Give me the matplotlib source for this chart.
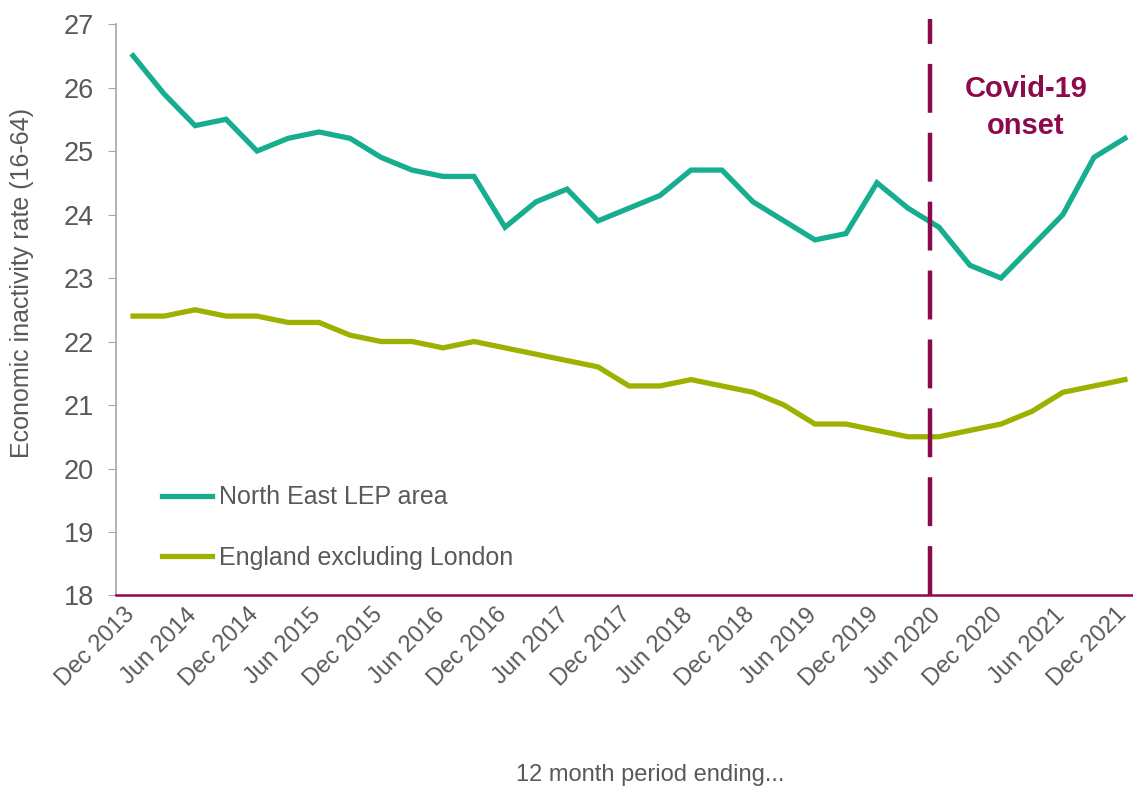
import matplotlib.pyplot as plt
from matplotlib.transforms import ScaledTranslation

plt.rcParams['font.family'] = ['Liberation Sans', 'DejaVu Sans']

# quarterly, 12 month period ending Dec 2013 ... Dec 2021
periods = ['Dec 2013', 'Mar 2014', 'Jun 2014', 'Sep 2014', 'Dec 2014', 'Mar 2015', 'Jun 2015',
           'Sep 2015', 'Dec 2015', 'Mar 2016', 'Jun 2016', 'Sep 2016', 'Dec 2016', 'Mar 2017',
           'Jun 2017', 'Sep 2017', 'Dec 2017', 'Mar 2018', 'Jun 2018', 'Sep 2018', 'Dec 2018',
           'Mar 2019', 'Jun 2019', 'Sep 2019', 'Dec 2019', 'Mar 2020', 'Jun 2020', 'Sep 2020',
           'Dec 2020', 'Mar 2021', 'Jun 2021', 'Sep 2021', 'Dec 2021']
north_east = [26.5, 25.9, 25.4, 25.5, 25.0, 25.2, 25.3, 25.2, 24.9, 24.7, 24.6, 24.6, 23.8,
              24.2, 24.4, 23.9, 24.1, 24.3, 24.7, 24.7, 24.2, 23.9, 23.6, 23.7, 24.5, 24.1,
              23.8, 23.2, 23.0, 23.5, 24.0, 24.9, 25.2]
england_ex_london = [22.4, 22.4, 22.5, 22.4, 22.4, 22.3, 22.3, 22.1, 22.0, 22.0, 21.9, 22.0,
                     21.9, 21.8, 21.7, 21.6, 21.3, 21.3, 21.4, 21.3, 21.2, 21.0, 20.7, 20.7,
                     20.6, 20.5, 20.5, 20.6, 20.7, 20.9, 21.2, 21.3, 21.4]
covid_pos = 25.7  # between Mar 2020 and Jun 2020

teal = '#17AD8F'
olive = '#9DB100'
maroon = '#8C0A4B'
grey = '#595959'

fig = plt.figure(figsize=(11.33, 7.88), dpi=100)
ax = fig.add_axes([0.1024, 0.2443, 0.8976, 0.7252])

x = list(range(len(periods)))
ax.plot(x, north_east, color=teal, lw=3.8, label='North East LEP area', solid_joinstyle='miter')
ax.plot(x, england_ex_london, color=olive, lw=3.8, label='England excluding London', solid_joinstyle='miter')
ax.axvline(covid_pos, ymin=0, ymax=1.008, color=maroon, lw=3.2, dashes=(11, 4.5), clip_on=False)

ax.text(28.8, 25.68, 'Covid-19\nonset', color=maroon, fontsize=21, fontweight='bold',
        ha='center', va='center', linespacing=1.42)

ax.set_xlim(-0.55, 32.26)
ax.set_ylim(18, 27)
ax.set_yticks(range(18, 28))
ax.set_xticks(x[::2])
ax.set_xticklabels(periods[::2], rotation=45, ha='right', rotation_mode='anchor',
                   fontsize=17, color=grey)
ax.tick_params(axis='x', length=0, pad=6)
ax.tick_params(axis='y', length=6, color='#A6A6A6', labelsize=19.5, labelcolor=grey, pad=10)

# nudge the rotated labels a little left so the last one stays inside the figure
shift = ScaledTranslation(-7 / 72, 0, fig.dpi_scale_trans)
for lbl in ax.get_xticklabels():
    lbl.set_transform(lbl.get_transform() + shift)

for s in ['top', 'right']:
    ax.spines[s].set_visible(False)
ax.spines['left'].set_color('#A6A6A6')
ax.spines['left'].set_linewidth(1.2)
ax.spines['bottom'].set_color(maroon)
ax.spines['bottom'].set_linewidth(1.8)

leg = ax.legend(loc='upper left', bbox_to_anchor=(0.023, 0.232), frameon=False,
                fontsize=18, handlelength=2.0, handletextpad=0.3, labelspacing=1.45)
for t in leg.get_texts():
    t.set_color(grey)

fig.text(22 / 1133, 1 - 283 / 788, 'Economic inactivity rate (16-64)', rotation=90,
         ha='center', va='center', fontsize=18, color=grey)
fig.text(650 / 1133, 1 - 775 / 788, '12 month period ending...', ha='center', va='center',
         fontsize=17, color=grey)

fig.savefig('out.png', dpi=100)
